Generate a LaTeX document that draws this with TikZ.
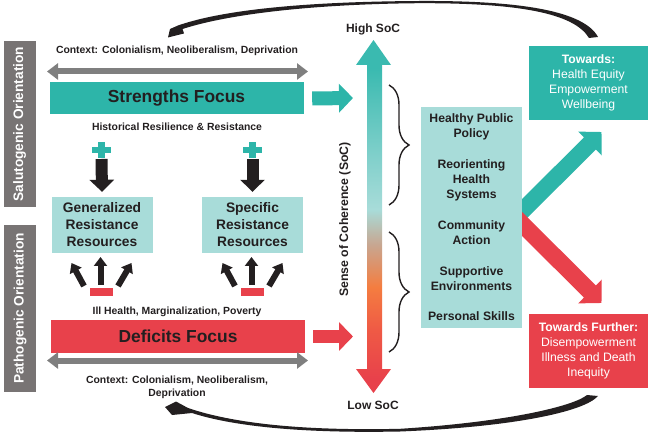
\documentclass[tikz,border=0pt]{standalone}
\usepackage{fontspec}
\setmainfont{Liberation Sans}
\usetikzlibrary{arrows.meta,decorations.pathreplacing}
\definecolor{cTeal}{HTML}{2DB5A9}
\definecolor{cTealA}{HTML}{3ABAB0}
\definecolor{cMid}{HTML}{7ECFCA}
\definecolor{cLight}{HTML}{A8DCD9}
\definecolor{cTan}{HTML}{C8A690}
\definecolor{cOrange}{HTML}{F47D40}
\definecolor{cRedO}{HTML}{EF5A45}
\definecolor{cRed}{HTML}{E8414B}
\definecolor{cGray}{HTML}{7F7F7F}
\definecolor{cBox}{HTML}{787474}
\definecolor{cInk}{HTML}{231F20}
\pgfdeclareverticalshading{socgrad}{100bp}{color(0bp)=(cRed); color(27bp)=(cRed); color(34bp)=(cRedO); color(40bp)=(cOrange); color(46bp)=(cTan); color(51bp)=(cLight); color(59bp)=(cMid); color(71bp)=(cTealA); color(100bp)=(cTealA)}
\begin{document}
\begin{tikzpicture}[x=1pt,y=-1pt,
  lbl/.style={font=\fontsize{10.4}{13.3}\selectfont\bfseries, text=cInk, inner sep=0pt, align=center},
  bigbar/.style={minimum width=254pt, minimum height=32pt, inner sep=0pt, font=\fontsize{17.4}{20}\selectfont\bfseries, text=cInk},
  resbox/.style={fill=cLight, minimum width=101pt, minimum height=56pt, inner sep=0pt, align=center, font=\fontsize{13.8}{17}\selectfont\bfseries, text=cInk},
  listtxt/.style={font=\fontsize{12.2}{15}\selectfont\bfseries, text=cInk, align=center, inner sep=0pt},
  outbox/.style={minimum width=119pt, minimum height=74pt, inner sep=0pt, align=center, text=white, font=\fontsize{12.2}{15}\selectfont},
  orient/.style={fill=cBox, rotate=90, text=white, font=\fontsize{13.7}{16}\selectfont\bfseries, inner sep=0pt, minimum height=32pt},
  ctxarrow/.style={draw=cGray, line width=6pt, {Triangle[length=11pt,width=16pt]}-{Triangle[length=11pt,width=16pt]}},
  downarr/.style={draw=cInk, line width=12pt, -{Triangle[length=12pt,width=24pt]}},
  fanarr/.style={draw=cInk, line width=6pt, -{Triangle[length=9pt,width=13pt]}},
  blockarr/.style={line width=14pt, -{Triangle[length=14pt,width=28pt]}},
  diagarr/.style={line width=17pt, -{Triangle[length=16.3pt,width=32.5pt]}},
  bracestyle/.style={draw=cInk, line width=1.4pt, decorate, decoration={brace, amplitude=20pt, aspect=0.5}}
]
\useasboundingbox (0,0) rectangle (650,435);

% curved brush arrows
\fill[cInk] (598,37) .. controls (584,11) and (521,0.5) .. (420,1)
  .. controls (320,1.5) and (228,8) .. (178,25.5) -- (170,29) -- (168,37.5) -- (184,33.5) -- (182.5,29)
  .. controls (232,13) and (320,4) .. (420,3.2) .. controls (518,3) and (574,13) .. (589,38) -- cycle;
\fill[cInk] (587,395) .. controls (574,406) and (508,422) .. (400,428.8)
  .. controls (300,431) and (232,423) .. (188,408) -- (176,401.5) -- (165,407) -- (172,415) -- (192,413)
  .. controls (232,426) and (300,433.5) .. (400,431.5) .. controls (512,427) and (584,412) .. (598,396) -- cycle;

% orientation bars
\node[orient, minimum width=166pt] (salu) at (19.5,124) {Salutogenic Orientation};
\node[orient, minimum width=167pt] (patho) at (20,308.5) {Pathogenic Orientation};

% top half
\node[lbl] (ctxtop) at (177,51) {Context: Colonialism, Neoliberalism, Deprivation};
\coordinate (ctxL1) at (47,71.5);
\coordinate (ctxR1) at (308,71.5);
\draw[ctxarrow] (ctxL1) -- (ctxR1);
\node[bigbar, fill=cTeal] (strength) at (176.5,98.5) {Strengths Focus};
\node[lbl] (hist) at (177,127) {Historical Resilience \& Resistance};

\node[resbox] (gen) at (102,225) {Generalized\\Resistance\\Resources};
\node[resbox] (spec) at (252.5,225) {Specific\\Resistance\\Resources};

\foreach \cx/\bx in {101.5/gen, 252.5/spec}{
  \fill[cTeal] (\cx-9.5,147) rectangle (\cx+9.5,153.5);
  \fill[cTeal] (\cx-3.3,142) rectangle (\cx+3.3,158);
  \coordinate (p) at (\cx,159);
  \draw[downarr] (p) -- ([yshift=5pt]\bx.north);
  \fill[cRed] (\cx-11.5,288) rectangle (\cx+11.5,296);
  \coordinate (f0) at (\cx-1,285);
  \coordinate (fl) at (\cx-17.5,286);
  \coordinate (fr) at (\cx+16.5,286);
  \draw[fanarr] (f0) -- (\cx-1,257);
  \draw[fanarr] (fl) -- (\cx-30,263);
  \draw[fanarr] (fr) -- (\cx+30,263);
}

% bottom half
\node[lbl] (ill) at (177,312) {Ill Health, Marginalization, Poverty};
\node[bigbar, fill=cRed] (deficit) at (178,336.5) {Deficits Focus};
\coordinate (ctxL2) at (47,360.5);
\coordinate (ctxR2) at (308,360.5);
\draw[ctxarrow] (ctxL2) -- (ctxR2);
\node[lbl] (ctxbot) at (177,387) {Context: Colonialism, Neoliberalism,\\Deprivation};

% arrows into SoC
\coordinate (tA) at (353,98);
\coordinate (tB) at (353,336.5);
\draw[blockarr, cTeal] ([xshift=8.5pt]strength.east) -- (tA);
\draw[blockarr, cRed, line width=13pt] ([xshift=8pt]deficit.east) -- (tB);

% SoC gradient arrow
\shade[shading=socgrad] (367,369) -- (367,65) -- (356,65) -- (373.5,40) -- (391,65) -- (382,65)
  -- (382,369) -- (391,369) -- (373.5,393) -- (356,369) -- cycle;
\node[lbl, font=\fontsize{12}{14}\selectfont\bfseries] (high) at (373,29) {High SoC};
\node[lbl, font=\fontsize{12}{14}\selectfont\bfseries] (low) at (373,405.5) {Low SoC};
\node[lbl, font=\fontsize{12.3}{14}\selectfont\bfseries, rotate=90] (soc) at (345,219.5) {Sense of Coherence (SoC)};

% braces
\coordinate (b1t) at (389,85); \coordinate (b1b) at (389,205);
\coordinate (b2t) at (389,232); \coordinate (b2b) at (389,352);
\draw[bracestyle] (b1t) -- (b1b);
\draw[bracestyle] (b2t) -- (b2b);

% diagonal arrows
\coordinate (tipG) at (601.5,132);
\coordinate (tipB) at (601.5,303);
\coordinate (dstart) at (515.5,217.5);
\draw[diagarr, cTeal] (dstart) -- (tipG);
\draw[diagarr, cRed] (dstart) -- (tipB);

% action list box
\node[fill=cLight, minimum width=101pt, minimum height=221pt, inner sep=0pt] (list) at (471.5,217.5) {};
\node[listtxt] (hpp) at (471.5,126.5) {Healthy Public\\Policy};
\node[listtxt] (rhs) at (471.5,180) {Reorienting\\Health\\Systems};
\node[listtxt] (ca) at (471.5,232.5) {Community\\Action};
\node[listtxt] (se) at (471.5,278.5) {Supportive\\Environments};
\node[listtxt] (ps) at (471.5,316) {Personal Skills};

% outcome boxes
\node[outbox, fill=cTeal] (good) at (588.5,83) {{\bfseries Towards:}\\Health Equity\\Empowerment\\Wellbeing};
\node[outbox, fill=cRed] (bad) at (588.5,351) {{\bfseries Towards Further:}\\Disempowerment\\Illness and Death\\Inequity};
\end{tikzpicture}
\end{document}
